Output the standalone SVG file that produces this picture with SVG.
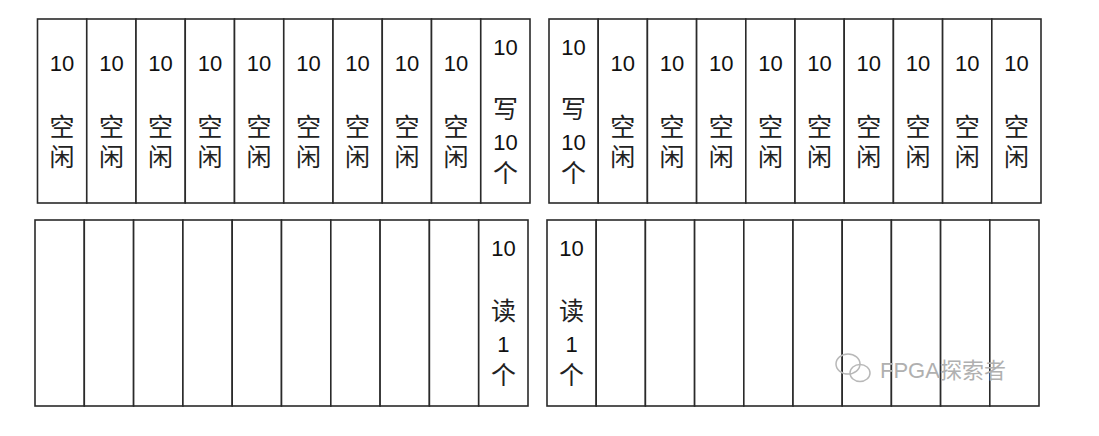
<svg xmlns="http://www.w3.org/2000/svg" width="1099" height="436" viewBox="0 0 1099 436">
<style>
.c{fill:#fff;stroke:#2a2a2a;stroke-width:1.6}
.n{font-family:"Liberation Sans",Arial,sans-serif;font-size:22px;fill:#111;text-anchor:middle}
.h{font-family:"Noto Sans CJK SC",sans-serif;font-size:25px;fill:#222;text-anchor:middle}
.v{font-family:"Noto Sans CJK SC",sans-serif;font-size:25px;fill:#222;writing-mode:vertical-rl;letter-spacing:5px}
.wm{font-family:"Liberation Sans","Noto Sans CJK SC",sans-serif;font-size:22px;fill:#b0b0b0}
.wi{fill:none;stroke:#b8b8b8;stroke-width:1.5}
</style>
<rect width="1099" height="436" fill="#fff"/>
<g id="top-left">
<g id="tl1"><rect class="c" x="37.5" y="19" width="49.25" height="184"/><text class="n" x="62.1" y="71">10</text><text class="v" x="62.1" y="114">空闲</text></g>
<g id="tl2"><rect class="c" x="86.75" y="19" width="49.25" height="184"/><text class="n" x="111.4" y="71">10</text><text class="v" x="111.4" y="114">空闲</text></g>
<g id="tl3"><rect class="c" x="136" y="19" width="49.25" height="184"/><text class="n" x="160.6" y="71">10</text><text class="v" x="160.6" y="114">空闲</text></g>
<g id="tl4"><rect class="c" x="185.25" y="19" width="49.25" height="184"/><text class="n" x="209.9" y="71">10</text><text class="v" x="209.9" y="114">空闲</text></g>
<g id="tl5"><rect class="c" x="234.5" y="19" width="49.25" height="184"/><text class="n" x="259.1" y="71">10</text><text class="v" x="259.1" y="114">空闲</text></g>
<g id="tl6"><rect class="c" x="283.75" y="19" width="49.25" height="184"/><text class="n" x="308.4" y="71">10</text><text class="v" x="308.4" y="114">空闲</text></g>
<g id="tl7"><rect class="c" x="333" y="19" width="49.25" height="184"/><text class="n" x="357.6" y="71">10</text><text class="v" x="357.6" y="114">空闲</text></g>
<g id="tl8"><rect class="c" x="382.25" y="19" width="49.25" height="184"/><text class="n" x="406.9" y="71">10</text><text class="v" x="406.9" y="114">空闲</text></g>
<g id="tl9"><rect class="c" x="431.5" y="19" width="49.25" height="184"/><text class="n" x="456.1" y="71">10</text><text class="v" x="456.1" y="114">空闲</text></g>
<g id="tl10"><rect class="c" x="480.75" y="19" width="49.25" height="184"/><text class="n" x="505.4" y="55">10</text><text class="h" x="505.4" y="118">写</text><text class="n" x="505.4" y="150">10</text><text class="h" x="505.4" y="182">个</text></g>
</g>
<g id="top-right">
<g id="tr1"><rect class="c" x="549" y="19" width="49.2" height="184"/><text class="n" x="573.6" y="55">10</text><text class="h" x="573.6" y="118">写</text><text class="n" x="573.6" y="150">10</text><text class="h" x="573.6" y="182">个</text></g>
<g id="tr2"><rect class="c" x="598.2" y="19" width="49.2" height="184"/><text class="n" x="622.8" y="71">10</text><text class="v" x="622.8" y="114">空闲</text></g>
<g id="tr3"><rect class="c" x="647.4" y="19" width="49.2" height="184"/><text class="n" x="672" y="71">10</text><text class="v" x="672" y="114">空闲</text></g>
<g id="tr4"><rect class="c" x="696.6" y="19" width="49.2" height="184"/><text class="n" x="721.2" y="71">10</text><text class="v" x="721.2" y="114">空闲</text></g>
<g id="tr5"><rect class="c" x="745.8" y="19" width="49.2" height="184"/><text class="n" x="770.4" y="71">10</text><text class="v" x="770.4" y="114">空闲</text></g>
<g id="tr6"><rect class="c" x="795" y="19" width="49.2" height="184"/><text class="n" x="819.6" y="71">10</text><text class="v" x="819.6" y="114">空闲</text></g>
<g id="tr7"><rect class="c" x="844.2" y="19" width="49.2" height="184"/><text class="n" x="868.8" y="71">10</text><text class="v" x="868.8" y="114">空闲</text></g>
<g id="tr8"><rect class="c" x="893.4" y="19" width="49.2" height="184"/><text class="n" x="918" y="71">10</text><text class="v" x="918" y="114">空闲</text></g>
<g id="tr9"><rect class="c" x="942.6" y="19" width="49.2" height="184"/><text class="n" x="967.2" y="71">10</text><text class="v" x="967.2" y="114">空闲</text></g>
<g id="tr10"><rect class="c" x="991.8" y="19" width="49.2" height="184"/><text class="n" x="1016.4" y="71">10</text><text class="v" x="1016.4" y="114">空闲</text></g>
</g>
<g id="bottom-left">
<g id="bl1"><rect class="c" x="35" y="220" width="49.3" height="186"/></g>
<g id="bl2"><rect class="c" x="84.3" y="220" width="49.3" height="186"/></g>
<g id="bl3"><rect class="c" x="133.6" y="220" width="49.3" height="186"/></g>
<g id="bl4"><rect class="c" x="182.9" y="220" width="49.3" height="186"/></g>
<g id="bl5"><rect class="c" x="232.2" y="220" width="49.3" height="186"/></g>
<g id="bl6"><rect class="c" x="281.5" y="220" width="49.3" height="186"/></g>
<g id="bl7"><rect class="c" x="330.8" y="220" width="49.3" height="186"/></g>
<g id="bl8"><rect class="c" x="380.1" y="220" width="49.3" height="186"/></g>
<g id="bl9"><rect class="c" x="429.4" y="220" width="49.3" height="186"/></g>
<g id="bl10"><rect class="c" x="478.7" y="220" width="49.3" height="186"/><text class="n" x="503.4" y="256">10</text><text class="h" x="503.4" y="320">读</text><text class="n" x="503.4" y="352">1</text><text class="h" x="503.4" y="384">个</text></g>
</g>
<g id="bottom-right">
<g id="br1"><rect class="c" x="547" y="220" width="49.2" height="186"/><text class="n" x="571.6" y="256">10</text><text class="h" x="571.6" y="320">读</text><text class="n" x="571.6" y="352">1</text><text class="h" x="571.6" y="384">个</text></g>
<g id="br2"><rect class="c" x="596.2" y="220" width="49.2" height="186"/></g>
<g id="br3"><rect class="c" x="645.4" y="220" width="49.2" height="186"/></g>
<g id="br4"><rect class="c" x="694.6" y="220" width="49.2" height="186"/></g>
<g id="br5"><rect class="c" x="743.8" y="220" width="49.2" height="186"/></g>
<g id="br6"><rect class="c" x="793" y="220" width="49.2" height="186"/></g>
<g id="br7"><rect class="c" x="842.2" y="220" width="49.2" height="186"/></g>
<g id="br8"><rect class="c" x="891.4" y="220" width="49.2" height="186"/></g>
<g id="br9"><rect class="c" x="940.6" y="220" width="49.2" height="186"/></g>
<g id="br10"><rect class="c" x="989.8" y="220" width="49.2" height="186"/></g>
</g>
<g id="connectors"/>
<g id="watermark">
<ellipse class="wi" cx="848" cy="364" rx="12" ry="10"/>
<ellipse class="wi" cx="860" cy="373" rx="10" ry="8.5" fill="#fff"/>
<text class="wm" x="880" y="378">FPGA探索者</text>
</g>
</svg>
